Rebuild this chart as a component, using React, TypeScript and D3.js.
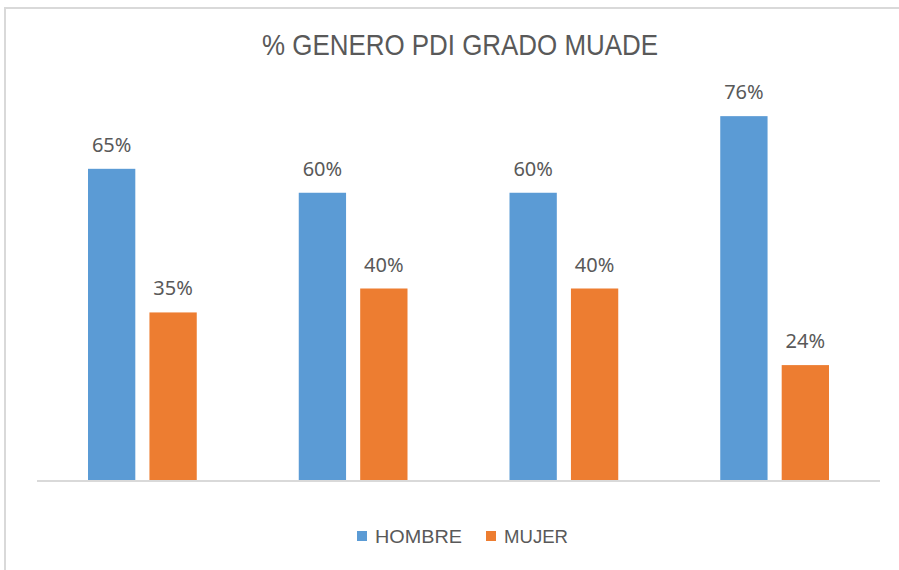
import * as d3 from "d3";
import { useEffect, useRef } from "react";

const categories = ["G1", "G2", "G3", "G4"];
const seriesNames = ["HOMBRE", "MUJER"];
const hombre = [65, 60, 60, 76];
const mujer = [35, 40, 40, 24];
const colors = ["#5B9BD5", "#ED7D31"];
const title = "% GENERO PDI GRADO MUADE";

export default function App() {
    const svgRef = useRef<SVGSVGElement | null>(null);
    const width = 899;
    const height = 570;

    useEffect(() => {
        const svg = d3.select(svgRef.current);
        svg.selectAll("*").remove();

        const margin = { top: 97, right: 19, bottom: 90, left: 37 };
        const innerWidth = width - margin.left - margin.right;
        const innerHeight = height - margin.top - margin.bottom;

        svg.append("rect")
            .attr("width", width)
            .attr("height", height)
            .attr("fill", "#ffffff");

        // marco
        svg.append("rect")
            .attr("x", 5)
            .attr("y", 8)
            .attr("width", width + 20)
            .attr("height", height + 20)
            .attr("fill", "none")
            .attr("stroke", "#d9d9d9")
            .attr("stroke-width", 2);

        svg.append("text")
            .attr("x", 460)
            .attr("y", 55)
            .attr("text-anchor", "middle")
            .attr("font-family", "'Liberation Sans Narrow', 'Liberation Sans', sans-serif")
            .attr("font-size", 30)
            .attr("fill", "#595959")
            .attr("textLength", 396)
            .attr("lengthAdjust", "spacingAndGlyphs")
            .text(title);

        const g = svg.append("g")
            .attr("transform", `translate(${margin.left},${margin.top})`);

        const x0 = d3.scaleBand().domain(categories).range([0, innerWidth]).paddingInner(0).paddingOuter(0);
        const x1 = d3.scaleBand().domain(seriesNames).range([51, x0.bandwidth() - 51]).paddingInner(0.23);
        const y = d3.scaleLinear().domain([0, 80]).range([innerHeight, 0]);

        const rows = categories.map((c, i) => ({ cat: c, vals: [hombre[i], mujer[i]] }));

        const groups = g.selectAll("g.grp")
            .data(rows)
            .enter()
            .append("g")
            .attr("class", "grp")
            .attr("transform", (d) => `translate(${x0(d.cat)},0)`);

        groups.selectAll("rect")
            .data((d) => d.vals.map((v, j) => ({ name: seriesNames[j], v, j })))
            .enter()
            .append("rect")
            .attr("x", (d) => x1(d.name)!)
            .attr("width", x1.bandwidth())
            .attr("y", (d) => y(d.v))
            .attr("height", (d) => innerHeight - y(d.v))
            .attr("fill", (d) => colors[d.j]);

        groups.selectAll("text")
            .data((d) => d.vals.map((v, j) => ({ name: seriesNames[j], v, j })))
            .enter()
            .append("text")
            .attr("x", (d) => x1(d.name)! + x1.bandwidth() / 2)
            .attr("y", (d) => y(d.v) - 17)
            .attr("text-anchor", "middle")
            .attr("font-family", "'Noto Sans', sans-serif")
            .attr("font-size", 20)
            .attr("fill", "#595959")
            .text((d) => `${d.v}%`);

        // linea base
        g.append("line")
            .attr("x1", 0)
            .attr("x2", innerWidth)
            .attr("y1", innerHeight + 1)
            .attr("y2", innerHeight + 1)
            .attr("stroke", "#d9d9d9")
            .attr("stroke-width", 2);

        // leyenda
        const legend = svg.append("g");
        const legendX = [357, 486];
        const legendW = [87, 64];
        seriesNames.forEach((name, i) => {
            legend.append("rect")
                .attr("x", legendX[i])
                .attr("y", 531)
                .attr("width", 10)
                .attr("height", 10)
                .attr("fill", colors[i]);
            legend.append("text")
                .attr("x", legendX[i] + 18)
                .attr("y", 543)
                .attr("font-family", "'Liberation Sans Narrow', 'Liberation Sans', sans-serif")
                .attr("font-size", 19)
                .attr("fill", "#595959")
                .attr("textLength", legendW[i])
                .attr("lengthAdjust", "spacingAndGlyphs")
                .text(name);
        });
    }, []);

    return (
        <svg
            ref={svgRef}
            width={width}
            height={height}
            style={{ position: "absolute", left: 0, top: 0, display: "block" }}
        ></svg>
    );
}
